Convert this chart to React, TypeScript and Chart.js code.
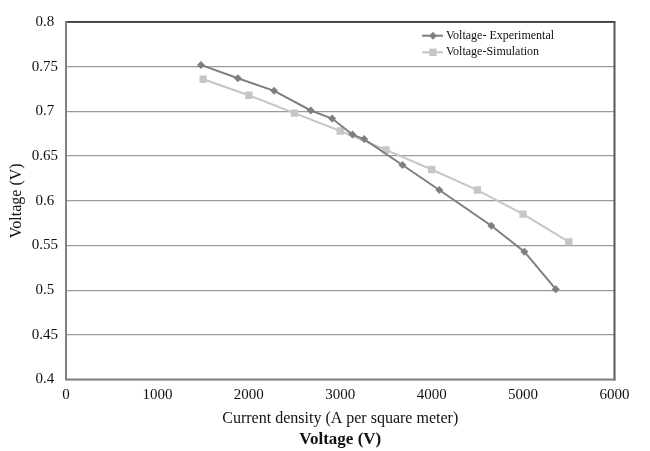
import React, { useEffect, useRef } from 'react';
import { Chart, registerables } from 'chart.js';

Chart.register(...registerables);

const expCurrent = [1476, 1880, 2277, 2678, 2911, 3133, 3261, 3680, 4084, 4653, 5014, 5357];
const expVoltage = [0.752, 0.737, 0.723, 0.701, 0.692, 0.674, 0.669, 0.64, 0.612, 0.572, 0.543, 0.501];
const simCurrent = [1500, 2000, 2500, 3000, 3500, 4000, 4500, 5000, 5500];
const simVoltage = [0.736, 0.718, 0.698, 0.678, 0.657, 0.635, 0.612, 0.585, 0.554];
const xTicks = [0, 1000, 2000, 3000, 4000, 5000, 6000];
const yTicks = [0.4, 0.45, 0.5, 0.55, 0.6, 0.65, 0.7, 0.75, 0.8];
const seriesNames = ['Voltage- Experimental', 'Voltage-Simulation'];
const xTitle = 'Current density (A per square meter)';
const yTitle = 'Voltage (V)';
const caption = 'Voltage (V)';

const SERIF = "'Liberation Serif', 'Times New Roman', serif";
const EXP_COLOR = '#7f7f7f';
const SIM_COLOR = '#c6c6c6';

const framePlugin = {
  id: 'frame',
  beforeDatasetsDraw(chart: any) {
    const { ctx, chartArea } = chart;
    const { left, right, top, bottom } = chartArea;
    ctx.save();
    ctx.lineCap = 'square';
    // top border
    ctx.strokeStyle = '#222';
    ctx.lineWidth = 1.5;
    ctx.beginPath();
    ctx.moveTo(left, top);
    ctx.lineTo(right, top);
    ctx.stroke();
    // right border
    ctx.strokeStyle = '#555';
    ctx.lineWidth = 2;
    ctx.beginPath();
    ctx.moveTo(right, top);
    ctx.lineTo(right, bottom);
    ctx.stroke();
    // left + bottom axis
    ctx.strokeStyle = '#808080';
    ctx.lineWidth = 2;
    ctx.beginPath();
    ctx.moveTo(left, top);
    ctx.lineTo(left, bottom);
    ctx.lineTo(right, bottom);
    ctx.stroke();
    ctx.restore();
  },
};

const textPlugin = {
  id: 'texts',
  afterDraw(chart: any) {
    const { ctx, chartArea } = chart;
    const cx = (chartArea.left + chartArea.right) / 2;
    const cy = (chartArea.top + chartArea.bottom) / 2;
    ctx.save();
    ctx.fillStyle = '#111';
    ctx.textAlign = 'center';
    ctx.textBaseline = 'alphabetic';
    ctx.font = `16px ${SERIF}`;
    ctx.fillText(xTitle, cx, 423);
    ctx.font = `bold 17px ${SERIF}`;
    ctx.fillText(caption, cx, 444);
    ctx.save();
    ctx.translate(17, cy);
    ctx.rotate(-Math.PI / 2);
    ctx.font = `16px ${SERIF}`;
    ctx.textBaseline = 'middle';
    ctx.fillText(yTitle, 0, 0);
    ctx.restore();

    // legend
    const colors = [EXP_COLOR, SIM_COLOR];
    const ys = [35.7, 52.3];
    for (let i = 0; i < 2; i++) {
      const y = ys[i];
      ctx.strokeStyle = colors[i];
      ctx.fillStyle = colors[i];
      ctx.lineWidth = 2;
      ctx.beginPath();
      ctx.moveTo(422, y);
      ctx.lineTo(443, y);
      ctx.stroke();
      const mx = 433;
      ctx.beginPath();
      if (i === 0) {
        ctx.moveTo(mx - 4, y);
        ctx.lineTo(mx, y - 4);
        ctx.lineTo(mx + 4, y);
        ctx.lineTo(mx, y + 4);
        ctx.closePath();
      } else {
        ctx.rect(mx - 3.7, y - 3.7, 7.4, 7.4);
      }
      ctx.fill();
      ctx.fillStyle = '#111';
      ctx.font = `12px ${SERIF}`;
      ctx.textAlign = 'left';
      ctx.textBaseline = 'middle';
      ctx.fillText(seriesNames[i], 446, y);
    }
    ctx.restore();
  },
};

export default function App() {
  const canvasRef = useRef<HTMLCanvasElement | null>(null);

  useEffect(() => {
    const canvas = canvasRef.current;
    if (!canvas) return;
    const chart = new Chart(canvas, {
      type: 'line',
      data: {
        datasets: [
          {
            label: seriesNames[0],
            data: expCurrent.map((x, i) => ({ x, y: expVoltage[i] })),
            borderColor: EXP_COLOR,
            backgroundColor: EXP_COLOR,
            borderWidth: 2,
            pointStyle: 'rectRot',
            pointRadius: 4,
            pointBorderWidth: 0,
            pointHoverRadius: 4,
            tension: 0,
          },
          {
            label: seriesNames[1],
            data: simCurrent.map((x, i) => ({ x, y: simVoltage[i] })),
            borderColor: SIM_COLOR,
            backgroundColor: SIM_COLOR,
            borderWidth: 2,
            pointStyle: 'rect',
            pointRadius: 5.2,
            pointBorderWidth: 0,
            pointHoverRadius: 5.2,
            tension: 0,
          },
        ],
      },
      options: {
        responsive: false,
        animation: false,
        layout: { padding: { top: 22, right: 35.5, left: 0, bottom: 0 } },
        plugins: {
          legend: { display: false },
          title: { display: false },
          tooltip: { enabled: false },
        },
        scales: {
          x: {
            type: 'linear',
            min: 0,
            max: 6000,
            afterBuildTicks: (s: any) => {
              s.ticks = xTicks.map((v) => ({ value: v }));
            },
            afterFit: (s: any) => {
              s.height = 71.5;
            },
            grid: { display: false, drawTicks: false },
            border: { display: false },
            ticks: {
              padding: 7,
              color: '#111',
              font: { family: SERIF, size: 15 },
              maxRotation: 0,
              autoSkip: false,
              callback: (v: any) => String(v),
            },
          },
          y: {
            type: 'linear',
            min: 0.4,
            max: 0.8,
            afterBuildTicks: (s: any) => {
              s.ticks = yTicks.map((v) => ({ value: v }));
            },
            afterFit: (s: any) => {
              s.width = 66;
            },
            grid: { color: '#9a9a9a', lineWidth: 1.2, drawTicks: false },
            border: { display: false },
            ticks: {
              padding: 8,
              crossAlign: 'center',
              color: '#111',
              font: { family: SERIF, size: 15 },
              autoSkip: false,
              callback: (v: any) => String(v),
            },
          },
        },
      },
      plugins: [framePlugin, textPlugin],
    } as any);
    return () => chart.destroy();
  }, []);

  return (
    <div style={{ position: 'absolute', left: 0, top: 0, width: 650, height: 451, background: '#fff' }}>
      <canvas ref={canvasRef} width={650} height={451} style={{ display: 'block' }} />
    </div>
  );
}
